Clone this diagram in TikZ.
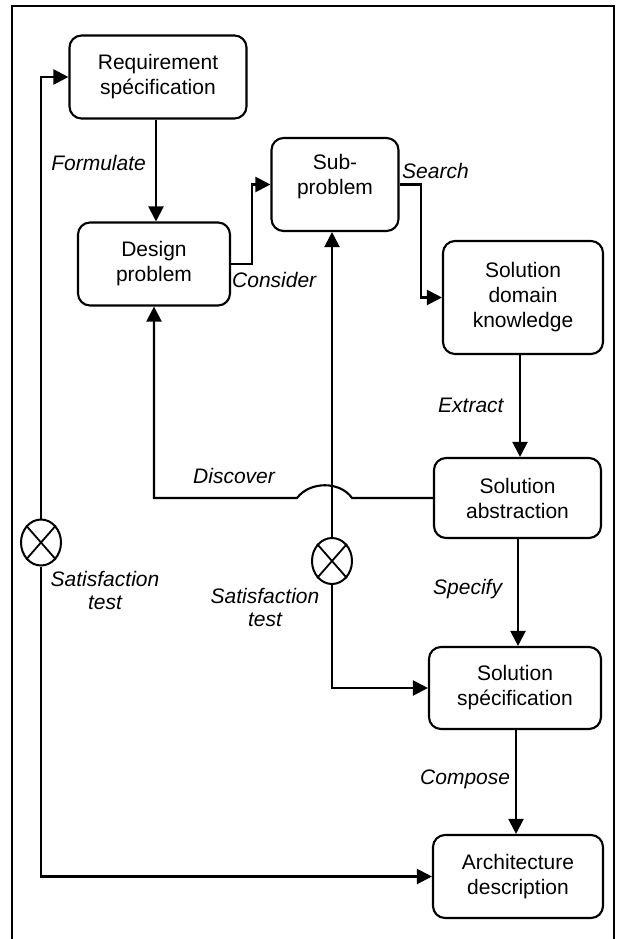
\documentclass[tikz,border=0pt]{standalone}
\usepackage{fontspec}
\setmainfont{Liberation Sans}
\usetikzlibrary{arrows.meta,shapes.geometric}
\begin{document}
\begin{tikzpicture}[x=1pt,y=-1pt,
  box/.style={draw,line width=2.1pt,rounded corners=12pt,align=center,inner sep=0pt,font=\fontsize{21}{25}\selectfont},
  lbl/.style={inner sep=0pt,font=\fontsize{21}{23.5}\selectfont\itshape},
  conn/.style={line width=2.1pt,-{Triangle[length=15pt,width=15pt]}},
  testc/.style={draw,ellipse,line width=2pt,fill=white,minimum width=40pt,minimum height=46pt,inner sep=0pt}]
\useasboundingbox (0,0) rectangle (621,939);
\draw[line width=2.4pt] (12,939) -- (12,6) -- (614,6) -- (614,939);

\coordinate (x156) at (156,0);
\coordinate (x520) at (520,0);
\coordinate (x518) at (518,0);
\coordinate (x516) at (516,0);

\node[box,minimum width=177pt,minimum height=83pt] (RS) at (158,77) {Requirement\\spécification};
\node[box,minimum width=152pt,minimum height=83pt] (DP) at (154,264) {Design\\problem};
\node[box,minimum width=127pt,minimum height=93pt] (SP) at (335,184.5) {Sub-\\problem\\[-4pt]};
\node[box,minimum width=160pt,minimum height=113pt] (SDK) at (523,297.5) {Solution\\domain\\knowledge};
\node[box,minimum width=167pt,minimum height=80pt] (SA) at (517.5,498) {Solution\\abstraction};
\node[box,minimum width=172pt,minimum height=82pt] (SS) at (515,688) {Solution\\spécification};
\node[box,minimum width=170pt,minimum height=83pt] (AD) at (518,876.5) {Architecture\\description};

\coordinate (h1) at (352,498);
\coordinate (h2) at (297,498);
\coordinate (d1) at (154,498);

\node[testc] (T1) at (41,542.5) {};
\node[testc] (T2) at (332,561) {};
\draw[line width=1.8pt] (T1.north west) -- (T1.south east) (T1.north east) -- (T1.south west);
\draw[line width=1.8pt] (T2.north west) -- (T2.south east) (T2.north east) -- (T2.south west);

\draw[conn] (RS.south -| x156) -- (DP.north -| x156);
\draw[conn] (DP.east) -- ++(21,0) |- (SP.west);
\draw[conn] (SP.east) -- ++(21,0) |- (SDK.west);
\draw[conn] (SDK.south -| x520) -- (SA.north -| x520);
\draw[conn] (SA.west) -- (h1) .. controls (340,481) and (310,481) .. (h2) -- (d1) -- (DP.south);
\draw[conn] (T2.north) -- (SP.south -| T2.north);
\draw[conn] (T2.south) |- (SS.west);
\draw[conn] (T1.north) |- (RS.west);
\draw[conn] (T1.south) |- (AD.west);
\draw[conn] (SA.south -| x518) -- (SS.north -| x518);
\draw[conn] (SS.south -| x516) -- (AD.north -| x516);

\node[lbl,anchor=base east] (lF) at (146,170) {Formulate};
\node[lbl,anchor=base west] (lC) at (232,287) {Consider};
\node[lbl,anchor=base west] (lS) at (402,178) {Search};
\node[lbl,anchor=base west] (lE) at (438,412) {Extract};
\node[lbl,anchor=base west] (lD) at (193,483) {Discover};
\node[lbl,anchor=base west] (lSp) at (433,594) {Specify};
\node[lbl,anchor=base west] (lCo) at (420,784) {Compose};
\node[lbl,align=center,anchor=north] (lT1) at (105,571) {Satisfaction\\test};
\node[lbl,align=center,anchor=north] (lT2) at (265,588) {Satisfaction\\test};
\end{tikzpicture}
\end{document}
